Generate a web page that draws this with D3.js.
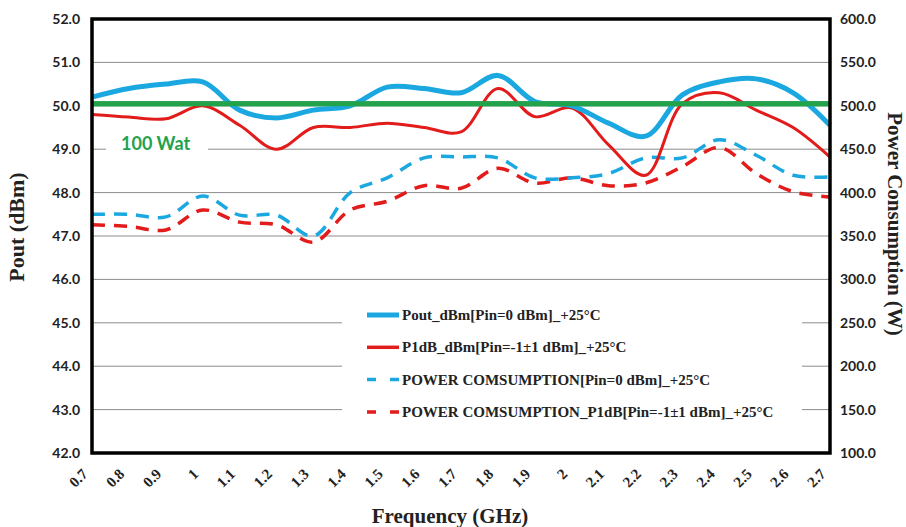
<!DOCTYPE html>
<html>
<head>
<meta charset="utf-8">
<script src="https://cdn.jsdelivr.net/npm/d3@7"></script>
<style>
  body { margin: 0; background: #ffffff; }
  #chart { width: 906px; height: 527px; }
</style>
</head>
<body>
<div id="chart"></div>
<script>
// We keep the chart data in small arrays here
const frequencies = ["0.7", "0.8", "0.9", "1", "1.1", "1.2", "1.3", "1.4", "1.5", "1.6", "1.7",
                     "1.8", "1.9", "2", "2.1", "2.2", "2.3", "2.4", "2.5", "2.6", "2.7"];
const poutValues = [50.2, 50.4, 50.5, 50.55, 49.9, 49.72, 49.9, 50.0, 50.43, 50.4, 50.3,
                    50.7, 50.1, 50.0, 49.6, 49.3, 50.25, 50.55, 50.62, 50.3, 49.55];
const p1dbValues = [49.8, 49.74, 49.7, 50.0, 49.55, 49.0, 49.5, 49.5, 49.6, 49.5, 49.4,
                    50.4, 49.75, 49.95, 49.1, 48.4, 50.05, 50.3, 49.9, 49.5, 48.82];
const powerValues = [375, 375, 372, 396, 374, 374, 350, 400, 417, 440, 441,
                     440, 417, 417, 422, 440, 440, 461, 443, 420, 418];
const powerP1dbValues = [363, 361, 357, 380, 366, 363, 343, 380, 390, 408, 405,
                         428, 411, 417, 408, 411, 430, 452, 422, 401, 395];
const leftTicks = [42, 43, 44, 45, 46, 47, 48, 49, 50, 51, 52];
const rightTicks = [100, 150, 200, 250, 300, 350, 400, 450, 500, 550, 600];
const limitValue = 50.05; // the 100 Wat reference line
const seriesNames = [
    "Pout_dBm[Pin=0 dBm]_+25\u00B0C",
    "P1dB_dBm[Pin=-1\u00B11 dBm]_+25\u00B0C",
    "POWER COMSUMPTION[Pin=0 dBm]_+25\u00B0C",
    "POWER COMSUMPTION_P1dB[Pin=-1\u00B11 dBm]_+25\u00B0C"
];

function drawChart() {
    const width = 906, height = 527;
    const margin = { top: 19, right: 76, bottom: 74, left: 92 };
    const innerWidth = width - margin.left - margin.right;
    const innerHeight = height - margin.top - margin.bottom;

    const svg = d3.select("#chart").append("svg")
        .attr("width", width)
        .attr("height", height);
    const g = svg.append("g")
        .attr("transform", `translate(${margin.left},${margin.top})`);

    // We create the scales
    const xScale = d3.scalePoint().domain(frequencies).range([0, innerWidth]);
    const yLeft = d3.scaleLinear().domain([42, 52]).range([innerHeight, 0]);
    const yRight = d3.scaleLinear().domain([100, 600]).range([innerHeight, 0]);

    // We draw the grid lines
    g.selectAll(".grid")
        .data(leftTicks.slice(1, -1))
        .enter().append("line")
        .attr("x1", 0).attr("x2", innerWidth)
        .attr("y1", d => yLeft(d)).attr("y2", d => yLeft(d))
        .attr("stroke", "#8c8c8c").attr("stroke-width", 1);

    // We draw the left axis labels
    const leftAxis = g.append("g")
        .call(d3.axisLeft(yLeft).tickValues(leftTicks).tickFormat(d3.format(".1f")).tickSize(0).tickPadding(12));
    leftAxis.select(".domain").remove();
    leftAxis.selectAll("text")
        .attr("font-family", "Lato").attr("font-weight", "bold")
        .attr("font-size", 14).attr("fill", "#222");

    // We draw the right axis labels
    const rightAxis = g.append("g")
        .attr("transform", `translate(${innerWidth},0)`)
        .call(d3.axisRight(yRight).tickValues(rightTicks).tickFormat(d3.format(".1f")).tickSize(0).tickPadding(10));
    rightAxis.select(".domain").remove();
    rightAxis.selectAll("text")
        .attr("font-family", "Lato").attr("font-weight", "bold")
        .attr("font-size", 14).attr("fill", "#222");

    // We draw the frequency axis with the library and tilt its labels
    const xAxis = g.append("g")
        .attr("transform", `translate(0,${innerHeight})`)
        .call(d3.axisBottom(xScale).tickSize(0).tickPadding(0));
    xAxis.select(".domain").remove();
    xAxis.selectAll(".tick text")
        .attr("x", 0).attr("y", 0).attr("dy", null)
        .attr("text-anchor", "end")
        .attr("transform", "translate(-4,22) rotate(-45)")
        .attr("font-family", "Liberation Serif").attr("font-weight", "bold")
        .attr("font-size", 15).attr("fill", "#222");

    // We add a white box behind the 100 Wat label
    g.append("rect")
        .attr("x", 14).attr("y", yLeft(49) - 18)
        .attr("width", 102).attr("height", 28)
        .attr("fill", "#ffffff");
    g.append("text")
        .attr("x", 29).attr("y", yLeft(49) + 0.5)
        .attr("font-family", "Lato").attr("font-weight", "bold")
        .attr("font-size", 18).attr("fill", "#22a24b")
        .text("100 Wat");

    // We add the legend background which hides the grid lines
    g.append("rect")
        .attr("x", 250).attr("y", 277)
        .attr("width", 460).attr("height", 137)
        .attr("fill", "#ffffff");

    // We describe the four series
    const curve = d3.curveCatmullRom.alpha(0.5);
    const series = [
        { values: poutValues, scale: yLeft, color: "#1ba8e0", width: 5, dash: null },
        { values: p1dbValues, scale: yLeft, color: "#e21b1b", width: 3, dash: null },
        { values: powerValues, scale: yRight, color: "#1ba8e0", width: 3.5, dash: "13,9" },
        { values: powerP1dbValues, scale: yRight, color: "#e21b1b", width: 3.5, dash: "13,9" }
    ];

    // We draw the green limit line first
    g.append("line")
        .attr("x1", 0).attr("x2", innerWidth)
        .attr("y1", yLeft(limitValue)).attr("y2", yLeft(limitValue))
        .attr("stroke", "#22a24b").attr("stroke-width", 5);

    series.slice().reverse().forEach(s => {
        const line = d3.line()
            .x((d, i) => xScale(frequencies[i]))
            .y(d => s.scale(d))
            .curve(curve);
        g.append("path")
            .datum(s.values)
            .attr("d", line)
            .attr("fill", "none")
            .attr("stroke", s.color)
            .attr("stroke-width", s.width)
            .attr("stroke-dasharray", s.dash);
    });

    // We redraw the green line on top where it shows over the curves
    g.append("line")
        .attr("x1", 0).attr("x2", innerWidth)
        .attr("y1", yLeft(limitValue)).attr("y2", yLeft(limitValue))
        .attr("stroke", "#22a24b").attr("stroke-width", 5);

    // We draw the legend entries
    const legend = g.selectAll(".legend")
        .data(series)
        .enter().append("g")
        .attr("transform", (d, i) => `translate(275,${296 + i * 32.3})`);
    legend.append("line")
        .attr("x1", 0).attr("x2", 32)
        .attr("stroke", d => d.color)
        .attr("stroke-width", (d, i) => i === 0 ? 5 : 3.5)
        .attr("stroke-dasharray", d => d.dash ? "9,14,9" : null);
    legend.append("text")
        .attr("x", 35).attr("y", 5)
        .attr("font-family", "Liberation Serif").attr("font-weight", "bold")
        .attr("font-size", 15).attr("fill", "#222")
        .text((d, i) => seriesNames[i]);

    // We draw the black frame around the plot area
    g.append("rect")
        .attr("x", 0).attr("y", 0)
        .attr("width", innerWidth).attr("height", innerHeight)
        .attr("fill", "none").attr("stroke", "#000").attr("stroke-width", 3.5);

    // We add the axis titles
    svg.append("text")
        .attr("transform", "translate(24,227) rotate(-90)")
        .attr("text-anchor", "middle")
        .attr("font-family", "Liberation Serif").attr("font-weight", "bold")
        .attr("font-size", 22).attr("fill", "#222")
        .text("Pout (dBm)");
    svg.append("text")
        .attr("transform", "translate(888,224) rotate(90)")
        .attr("text-anchor", "middle")
        .attr("font-family", "Liberation Serif").attr("font-weight", "bold")
        .attr("font-size", 21).attr("fill", "#222")
        .text("Power Consumption (W)");
    svg.append("text")
        .attr("x", 450).attr("y", 523)
        .attr("text-anchor", "middle")
        .attr("font-family", "Liberation Serif").attr("font-weight", "bold")
        .attr("font-size", 21).attr("fill", "#222")
        .text("Frequency (GHz)");
}

drawChart();
</script>
</body>
</html>
